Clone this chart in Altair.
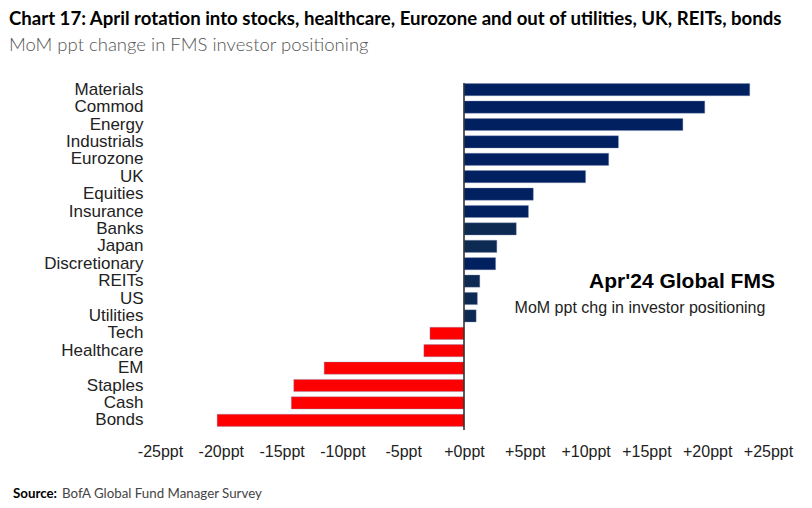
import altair as alt
import pandas as pd

categories = ["Materials", "Commod", "Energy", "Industrials", "Eurozone", "UK",
              "Equities", "Insurance", "Banks", "Japan", "Discretionary", "REITs",
              "US", "Utilities", "Tech", "Healthcare", "EM", "Staples", "Cash", "Bonds"]
values = [23.5, 19.8, 18.0, 12.7, 11.9, 10.0, 5.7, 5.3, 4.3, 2.7, 2.6, 1.3,
          1.1, 1.0, -2.8, -3.3, -11.5, -14.0, -14.2, -20.3]
dark_group = ["Banks", "Japan", "REITs", "US", "Utilities"]
tick_values = [-25, -20, -15, -10, -5, 0, 5, 10, 15, 20, 25]

df = pd.DataFrame({"category": categories, "value": values})

W, H = 608, 348
NAVY = "#002060"
DARK = "#0C2A52"
RED = "#FF0000"

x_enc = alt.X("value:Q", scale=alt.Scale(domain=[-25, 25], nice=False),
              axis=alt.Axis(values=tick_values, grid=False, domain=False, ticks=False,
                            labelExpr="(datum.value >= 0 ? '+' : '') + datum.value + 'ppt'",
                            labelFont="Liberation Sans", labelFontSize=16,
                            labelColor="#222222", labelPadding=14, title=None,
                            labelOverlap=False, labelFlush=False))
y_enc = alt.Y("category:N", sort=categories,
              scale=alt.Scale(paddingInner=0.3, paddingOuter=0.15),
              axis=alt.Axis(domain=False, ticks=False, grid=False, title=None,
                            labelFont="Liberation Sans", labelFontSize=17,
                            labelColor="#222222", labelPadding=17))

color = (alt.when(alt.datum.value < 0).then(alt.value(RED))
         .when(alt.FieldOneOfPredicate(field="category", oneOf=dark_group)).then(alt.value(DARK))
         .otherwise(alt.value(NAVY)))

bars = alt.Chart(df).mark_bar(stroke="#8090b8", strokeWidth=0.6, strokeOpacity=0.6).encode(
    x=x_enc,
    y=y_enc,
    color=color,
)

zero = alt.Chart(pd.DataFrame({"z": [0]})).mark_rule(color="#333333", strokeWidth=1.6).encode(
    x="z:Q", y=alt.value(2), y2=alt.value(H + 1))


def txt(t, x, y, size, weight="normal", color="#000000", font="Lato", align="left"):
    return alt.Chart(pd.DataFrame({"t": [t]})).mark_text(
        align=align, baseline="alphabetic", fontSize=size, fontWeight=weight,
        color=color, font=font).encode(text="t:N", x=alt.value(x), y=alt.value(y))


title = txt("Chart 17: April rotation into stocks, healthcare, Eurozone and out of utilities, UK, REITs, bonds",
            -151, -56, 18.6, "bold", "#000000")
subtitle = txt("MoM ppt change in FMS investor positioning", -151, -30, 18.5, 300, "#555555")
src1 = txt("Source:", -147, 417, 13.3, "bold", "#000000")
src2 = txt("BofA Global Fund Manager Survey", -98, 417, 13.3, "normal", "#444444")
ann1 = txt("Apr'24 Global FMS", 522, 207, 21, "bold", "#000000", "Liberation Sans", "center")
ann2 = txt("MoM ppt chg in investor positioning", 480, 232, 16, "normal", "#222222", "Liberation Sans", "center")

chart = alt.layer(bars, zero, title, subtitle, src1, src2, ann1, ann2).properties(
    width=W, height=H,
    autosize=alt.AutoSizeParams(type="none"),
    padding={"left": 152, "top": 73, "right": 34, "bottom": 90},
).configure_view(stroke=None)

chart.save("out.html", embed_options={"renderer": "svg", "actions": False})
